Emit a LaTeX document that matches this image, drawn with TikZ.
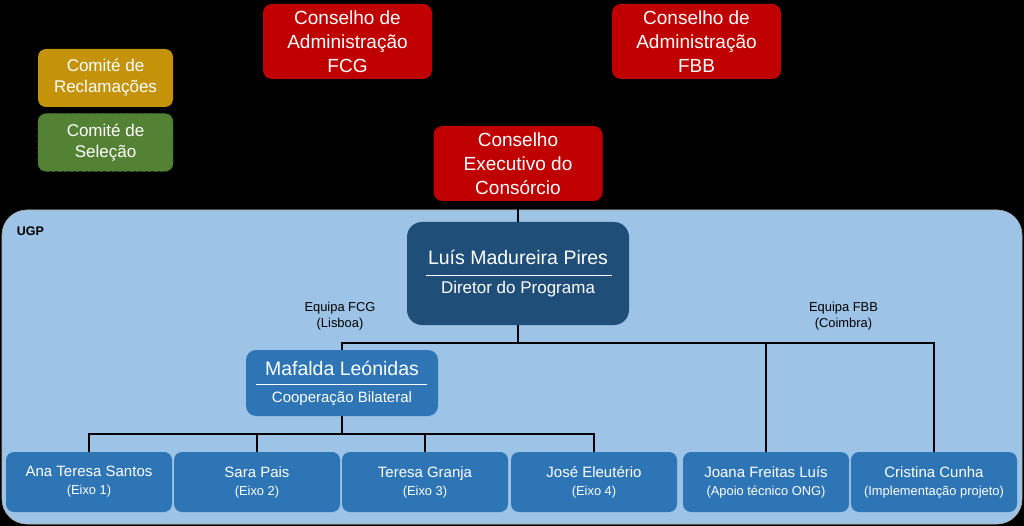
\documentclass[tikz,border=0pt]{standalone}
\usepackage{fontspec}
\setmainfont{Liberation Sans}
\definecolor{cred}{HTML}{C00000}
\definecolor{cgold}{HTML}{C4930A}
\definecolor{cgreen}{HTML}{548235}
\definecolor{cgreenline}{HTML}{3B5E25}
\definecolor{ugpblue}{HTML}{9DC3E6}
\definecolor{cdark}{HTML}{1F4E79}
\definecolor{cmid}{HTML}{2E75B6}
\newcommand{\subfs}{\fontsize{12.9}{15}\selectfont}
\tikzset{
  base/.style={inner sep=0pt, text=white, align=center},
  redbox/.style={base, fill=cred, rounded corners=9pt, minimum width=169pt, minimum height=75pt,
    font=\fontsize{19}{23.8}\selectfont},
  comite/.style={base, rounded corners=8pt, minimum width=135pt, minimum height=58pt,
    font=\fontsize{17}{21}\selectfont},
  dirbox/.style={base, fill=cdark, rounded corners=15pt, minimum width=222pt, minimum height=103pt,
    font=\fontsize{19.5}{29}\selectfont},
  coordbox/.style={base, fill=cmid, rounded corners=10pt, minimum width=192pt, minimum height=66pt,
    font=\fontsize{19.5}{27}\selectfont},
  staff/.style={base, fill=cmid, rounded corners=8pt, minimum width=166pt, minimum height=60pt,
    font=\fontsize{15}{18}\selectfont},
  conn/.style={draw=black, line width=1.5pt},
  sepline/.style={draw=white, line width=1pt},
  teamlabel/.style={align=center, inner sep=0pt, text=black, font=\fontsize{12.9}{16}\selectfont}
}
\begin{document}
\begin{tikzpicture}[x=1pt,y=-1pt]
\useasboundingbox (0,0) rectangle (1024,526);
\fill[black] (0,0) rectangle (1024,526);

% UGP container
\node[draw=gray!60, line width=0.6pt, fill=ugpblue, rounded corners=25pt, minimum width=1020pt,
      minimum height=314pt, inner sep=0pt] (ugp) at (512,367) {};
\node[inner sep=0pt, font=\fontsize{12.5}{14}\selectfont\bfseries, text=black] (ugplbl) at (30.5,231) {UGP};

% committees
\node[comite, fill=cgold] (recl) at (105.5,78) {\raisebox{-1.5pt}{Comité de}\\\raisebox{-1.5pt}{Reclamações}};
\node[comite, fill=cgreen, draw=cgreenline, dashed, line width=0.8pt] (sel) at (105.5,142.5) {\raisebox{-1.5pt}{Comité de}\\\raisebox{-1.5pt}{Seleção}};

% councils
\node[redbox] (fcg) at (347.5,41.5) {Conselho de\\Administração\\FCG};
\node[redbox] (fbb) at (696.5,41.5) {Conselho de\\Administração\\FBB};
\node[redbox] (exec) at (518,163.5) {Conselho\\Executivo do\\Consórcio};

% director
\node[dirbox] (luis) at (518,273.5) {\raisebox{-2pt}{Luís Madureira Pires}\\\raisebox{-2pt}{\fontsize{17}{20}\selectfont Diretor do Programa}};
\draw[sepline] (426,276) -- (612,276);

% coordinator
\node[coordbox] (maf) at (342,383) {Mafalda Leónidas\\{\fontsize{15}{18}\selectfont Cooperação Bilateral}};
\draw[sepline] (256,384) -- (427,384);

% team labels
\node[teamlabel] (lfcg) at (340,316) {Equipa FCG\\(Lisboa)};
\node[teamlabel] (lfbb) at (843.5,316.5) {Equipa FBB\\(Coimbra)};

% staff
\node[staff] (ana) at (89,482) {Ana Teresa Santos\\{\subfs (Eixo 1)}};
\node[staff] (sara) at (257,482) {Sara Pais\\{\subfs (Eixo 2)}};
\node[staff] (teresa) at (425,482) {Teresa Granja\\{\subfs (Eixo 3)}};
\node[staff] (jose) at (594,482) {José Eleutério\\{\subfs (Eixo 4)}};
\node[staff] (joana) at (766,482) {Joana Freitas Luís\\{\subfs (Apoio técnico ONG)}};
\node[staff] (cris) at (934,482) {Cristina Cunha\\{\subfs (Implementação projeto)}};

% connectors
\coordinate (busA) at (518,343);
\coordinate (busB) at (342,434);
\draw[conn] (exec.south) -- (luis.north);
\draw[conn] (luis.south) -- (busA);
\draw[conn] (busA) -| (maf.north);
\draw[conn] (busA) -| (joana.north);
\draw[conn] (busA) -| (cris.north);
\draw[conn] (maf.south) -- (busB);
\draw[conn] (busB) -| (ana.north);
\draw[conn] (busB) -| (sara.north);
\draw[conn] (busB) -| (teresa.north);
\draw[conn] (busB) -| (jose.north);
\end{tikzpicture}
\end{document}
